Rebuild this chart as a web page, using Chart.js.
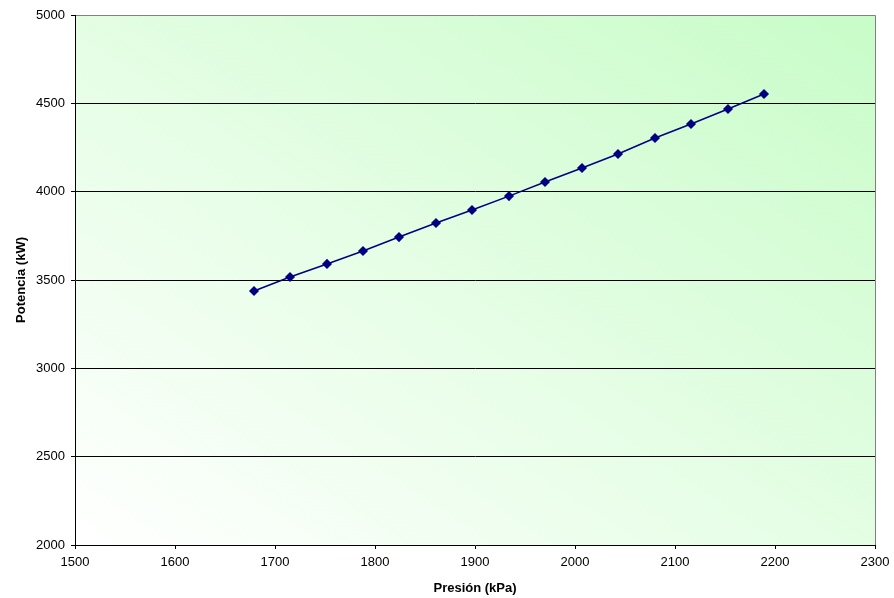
<!DOCTYPE html>
<html><head><meta charset="utf-8">
<script src="https://cdn.jsdelivr.net/npm/chart.js@4/dist/chart.umd.min.js"></script>
<style>html,body{margin:0;padding:0;background:#fff}#w{width:894px;height:598px}</style>
</head><body><div id="w"><canvas id="c"></canvas></div>
<script>
const presion = [1679, 1715, 1752, 1788, 1824, 1861, 1897, 1934, 1970, 2007, 2043, 2080, 2116, 2153, 2189];
const potencia = [3438, 3517, 3591, 3664, 3743, 3823, 3896, 3975, 4055, 4134, 4213, 4304, 4383, 4468, 4553];
const xTitle = 'Presión (kPa)';
const yTitle = 'Potencia (kW)';

const bgPlugin = {
  id: 'bg',
  beforeDraw(chart) {
    const {ctx, chartArea: a} = chart;
    const w = a.right - a.left, h = a.bottom - a.top;
    const cx = a.left + w / 2, cy = a.top + h / 2;
    const nx = h, ny = -w;
    const t = ((-w / 2) * nx + (h / 2) * ny) / (nx * nx + ny * ny);
    const g = ctx.createLinearGradient(cx + t * nx, cy + t * ny, cx - t * nx, cy - t * ny);
    g.addColorStop(0, '#ffffff');
    g.addColorStop(1, '#c8fcc8');
    ctx.save();
    ctx.fillStyle = g;
    ctx.fillRect(a.left, a.top, w, h);
    ctx.strokeStyle = '#808080';
    ctx.lineWidth = 1;
    ctx.beginPath();
    ctx.moveTo(a.left, a.top + 0.5);
    ctx.lineTo(a.right + 0.5, a.top + 0.5);
    ctx.lineTo(a.right + 0.5, a.bottom);
    ctx.stroke();
    ctx.restore();
  }
};

Chart.defaults.font.family = '"Liberation Sans", Arial, sans-serif';
Chart.defaults.font.size = 13;
Chart.defaults.color = '#000';

new Chart(document.getElementById('c'), {
  type: 'scatter',
  data: {
    datasets: [{
      data: presion.map((x, i) => ({x, y: potencia[i]})),
      showLine: true,
      borderColor: '#000080',
      backgroundColor: '#000080',
      borderWidth: 1.5,
      pointStyle: 'rectRot',
      pointRadius: 4,
      pointHoverRadius: 4
    }]
  },
  options: {
    responsive: true,
    maintainAspectRatio: false,
    animation: false,
    layout: {padding: {left: 0, right: 19, top: 15, bottom: 0}},
    plugins: {legend: {display: false}, tooltip: {enabled: false}},
    scales: {
      x: {
        type: 'linear', min: 1500, max: 2300,
        ticks: {stepSize: 100, padding: 6, color: '#000', font: {size: 13}, callback: (v) => String(v)},
        grid: {display: true, drawOnChartArea: false, drawTicks: true, tickLength: 4, color: '#000'},
        border: {display: true, color: '#000', width: 1},
        title: {display: true, text: xTitle, font: {size: 13, weight: 'bold'}, padding: {top: 4, bottom: 2}},
        afterFit(s) { s.height = 53; s.paddingRight = 0; s.paddingLeft = 0; }
      },
      y: {
        type: 'linear', min: 2000, max: 5000,
        ticks: {stepSize: 500, padding: 6, color: '#000', font: {size: 13}, callback: (v) => String(v)},
        grid: {color: (c) => (c.tick.value === 2000 || c.tick.value === 5000) ? 'rgba(0,0,0,0)' : '#000', tickLength: 4, tickColor: '#000'},
        border: {display: true, color: '#000', width: 1},
        title: {display: true, text: yTitle, font: {size: 13, weight: 'bold'}, padding: {top: 14, bottom: 4}},
        afterFit(s) { s.width = 75; s.paddingTop = 0; s.paddingBottom = 0; }
      }
    }
  },
  plugins: [bgPlugin]
});
</script></body></html>
